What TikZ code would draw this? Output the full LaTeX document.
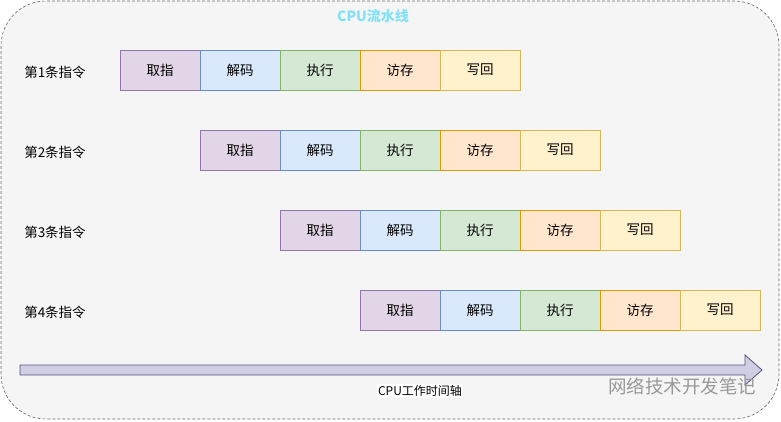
\documentclass[tikz,border=0pt]{standalone}
\usepackage{fontspec}
\setmainfont{Noto Sans CJK SC}
\usepackage{xcolor}
\usetikzlibrary{positioning}

\definecolor{qzfill}{HTML}{E1D5E7}\definecolor{qzdraw}{HTML}{9673A6}
\definecolor{jmfill}{HTML}{DAE8FC}\definecolor{jmdraw}{HTML}{6C8EBF}
\definecolor{zxfill}{HTML}{D5E8D4}\definecolor{zxdraw}{HTML}{82B366}
\definecolor{fcfill}{HTML}{FFE6CC}\definecolor{fcdraw}{HTML}{D79B00}
\definecolor{xhfill}{HTML}{FFF2CC}\definecolor{xhdraw}{HTML}{D6B656}
\definecolor{axfill}{HTML}{D0CEE2}\definecolor{axdraw}{HTML}{56517E}
\definecolor{titlecol}{HTML}{80E2F6}

\begin{document}
\begin{tikzpicture}[
  x=1pt, y=-1pt,
  font=\fontsize{13.5}{15}\selectfont,
  stage/.style={rectangle, draw, line width=0.8pt, minimum width=80pt, minimum height=40pt, inner sep=0pt, outer sep=0pt},
  qz/.style={stage, fill=qzfill, draw=qzdraw},
  jm/.style={stage, fill=jmfill, draw=jmdraw},
  zx/.style={stage, fill=zxfill, draw=zxdraw},
  fc/.style={stage, fill=fcfill, draw=fcdraw},
  xh/.style={stage, fill=xhfill, draw=xhdraw},
  rowlabel/.style={inner sep=0pt}
]
  \useasboundingbox (0,0) rectangle (781,421);
  \draw[dash pattern=on 3pt off 2pt, line width=0.6pt, draw=black!60, fill=black!4, rounded corners=45pt] (1,1) rectangle (779,419);
  \node[font=\fontsize{14}{16}\selectfont\bfseries, text=titlecol] (title) at (373,16) {CPU流水线};

  % four instructions, one stage later each
  \foreach \i in {1,...,4} {
    \node[rowlabel] (lbl\i) at (55, {72+80*(\i-1)}) {第\i 条指令};
    \node[qz] (qz\i) at ({160+80*(\i-1)}, {70+80*(\i-1)}) {取指};
    \node[jm, right=0pt of qz\i] (jm\i) {解码};
    \node[zx, right=0pt of jm\i] (zx\i) {执行};
    \node[fc, right=0pt of zx\i] (fc\i) {访存};
    \node[xh, right=0pt of fc\i] (xh\i) {写回};
  }

  % time axis
  \draw[fill=axfill, draw=axdraw, line width=0.8pt]
    (20,365) -- (745,365) -- (745,355) -- (762,370) -- (745,385) -- (745,375) -- (20,375) -- cycle;
  \node[font=\fontsize{12}{14}\selectfont, fill=white, inner sep=1pt] (axislbl) at (420,391) {CPU工作时间轴};
  \node[font=\fontsize{18.5}{20}\selectfont, text=black!40] (mark) at (682,386) {网络技术开发笔记};
\end{tikzpicture}
\end{document}
